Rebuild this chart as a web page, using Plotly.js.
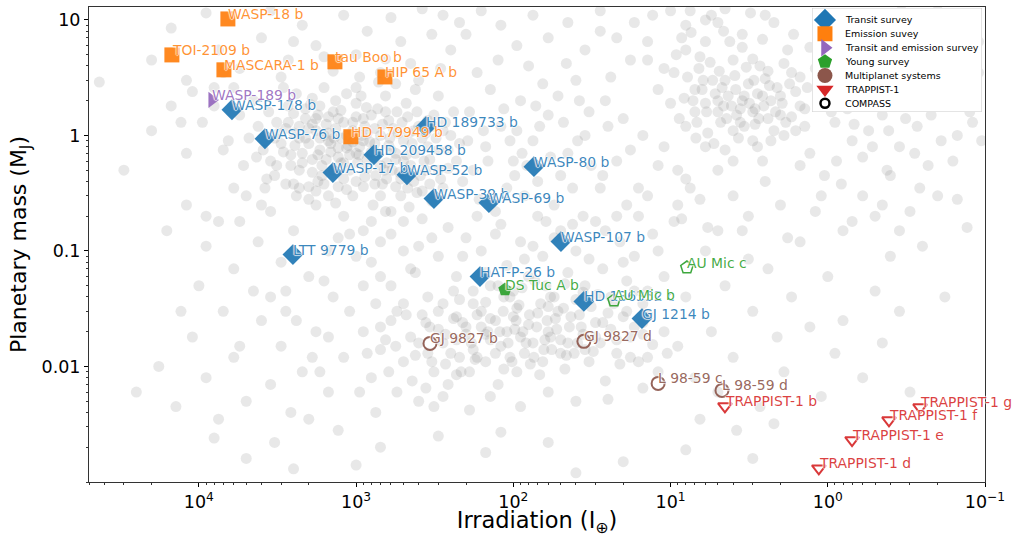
<!DOCTYPE html>
<html><head><meta charset="utf-8">
<script src="https://cdn.plot.ly/plotly-3.0.1.min.js"></script>
<style>html,body{margin:0;padding:0;background:#fff}#chart{width:1013px;height:537px}</style>
</head><body><div id="chart"></div>
<script>
// ---------- Highlighted targets (irradiation in I_earth, mass in M_J) ----------
const transitNames = ['WASP-178 b','WASP-76 b','HD 189733 b','HD 209458 b','WASP-17 b','WASP-52 b','WASP-80 b','WASP-39 b','WASP-69 b','LTT 9779 b','WASP-107 b','HAT-P-26 b','HD 136352 c','GJ 1214 b'];
const transitIrr   = [6165, 3800, 360, 771, 1405, 475, 74, 320, 143, 2523, 49.8, 163, 35.6, 15.2];
const transitMass  = [1.67, 0.936, 1.19, 0.68, 0.477, 0.457, 0.537, 0.284, 0.262, 0.0931, 0.1205, 0.060, 0.0366, 0.026];

const emissionNames = ['WASP-18 b','TOI-2109 b','MASCARA-1 b','tau Boo b','HIP 65 A b','HD 179949 b'];
const emissionIrr   = [6540, 14850, 6930, 1364, 656, 1080];
const emissionMass  = [10.2, 4.98, 3.70, 4.34, 3.21, 0.975];

const bothNames = ['WASP-189 b'];
const bothIrr   = [8260];
const bothMass  = [2.03];

const youngNames = ['DS Tuc A b'];
const youngIrr   = [113];
const youngMass  = [0.0463];

const youngCompassNames = ['AU Mic b','AU Mic c'];
const youngCompassIrr   = [22.9, 7.87];
const youngCompassMass  = [0.0373, 0.0719];

const multiNames = ['GJ 9827 b','GJ 9827 d','L 98-59 c','L 98-59 d'];
const multiIrr   = [339, 35.6, 12.0, 4.71];
const multiMass  = [0.01585, 0.0165, 0.00714, 0.00621];

const trappistNames = ['TRAPPIST-1 b','TRAPPIST-1 d','TRAPPIST-1 e','TRAPPIST-1 f','TRAPPIST-1 g'];
const trappistIrr   = [4.51, 1.14, 0.701, 0.408, 0.259];
const trappistMass  = [0.00452, 0.00131, 0.0023, 0.00342, 0.00443];

// ---------- Background known exoplanets [irradiation, mass] ----------
const bgHotJupiters = [[1800,1.1],[1500,0.9],[1200,1.3],[2100,1.4],[950,0.8],[700,1.0],[1300,0.65],[1650,0.55],[2500,1.05],[3000,0.85],
[2200,0.7],[1100,0.5],[850,0.62],[600,0.75],[750,0.45],[500,0.9],[400,1.2],[450,0.55],[350,0.8],[300,0.5],
[1400,1.6],[1900,2.1],[2700,1.8],[1000,1.9],[800,1.5],[650,2.2],[550,1.6],[420,2.5],[320,1.5],[250,1.0],
[230,0.6],[280,0.35],[380,0.33],[520,0.3],[680,0.38],[900,0.36],[1200,0.42],[1600,0.38],[2300,0.5],[3500,0.6],
[4200,1.2],[3800,0.9],[2900,2.6],[2000,0.28],[1350,0.26],[780,0.25],[600,0.22],[460,0.24],[330,0.27],[210,0.4],
[1700,0.75],[1250,0.95],[1050,1.1],[880,1.2],[720,0.7],[580,1.15],[480,0.68],[370,0.6],[260,0.75],[2600,0.68],
[3200,1.3],[2400,2.3],[1550,1.25],[1150,0.78],[980,0.58],[820,0.88],[640,0.58],[530,0.48],[430,0.4],[310,0.95],
[270,1.3],[1900,0.62],[1450,0.72],[1100,0.68],[920,1.0],[760,1.15],[610,0.95],[510,1.3],[440,0.85],[360,1.05],
[2800,1.15],[2100,0.95],[1750,1.5],[1350,2.0],[1000,2.6],[720,2.9],[560,2.8],[400,3.0],[300,2.2],[240,1.6],
[4500,2.0],[3300,0.45],[2500,0.38],[1800,0.33],[1050,0.3],[700,0.3],[1500,1.05],[1250,0.58],[850,0.52],[660,0.5],
[560,0.62],[390,0.45],[340,0.38],[1700,1.8],[2300,1.2],[3900,0.75],[1000,1.45],[480,1.9],
[5500,1.5],[6500,0.9],[8000,2.6],[9500,1.3],[12000,0.7],[15000,1.8],[20000,1.1],[30000,0.5],[5200,0.55],[7000,3.5]];

const bgHotJupiterCore = [[1900,1.25],[1600,1.0],[1350,1.15],[1150,1.0],[1450,0.85],[2000,0.85],[2300,0.95],[1750,0.68],[1550,0.62],[1300,0.78],
[1000,0.7],[900,0.9],[1050,0.88],[1200,0.58],[1400,0.5],[1650,0.45],[1900,0.48],[2200,0.58],[2600,0.55],[2900,0.72],
[3300,0.95],[2700,1.3],[2100,1.7],[1800,1.4],[1500,1.45],[1250,1.65],[1050,1.3],[850,1.05],[760,0.85],[680,1.25],
[620,0.82],[560,0.7],[500,0.6],[460,1.05],[420,0.7],[380,0.95],[340,0.62],[300,0.75],[280,1.1],[350,1.35],
[410,1.6],[470,1.45],[620,1.35],[730,1.7],[860,1.75],[930,2.2],[1150,2.3],[1600,2.6],[2000,1.15],[2450,0.82],
[3100,1.05],[3600,1.6],[1700,0.95],[1380,0.95],[1120,0.82],[960,0.68],[800,0.72],[700,0.55],[590,0.5],[520,0.42],
[470,0.35],[560,0.36],[640,0.42],[760,0.38],[880,0.44],[1000,0.4],[1150,0.34],[1300,0.36],[1500,0.3],[1750,0.4],
[2000,0.36],[2400,0.3],[2800,0.38],[3200,0.55],[3700,0.42],[4300,0.65],[4800,0.95],[2500,1.55],[1950,1.85],[1300,1.4],
[900,1.4],[650,1.6],[540,1.05],[430,1.1],[320,1.2],[260,0.52],[220,0.85],[290,0.42],[410,0.32],[360,0.5]];

const bgWarmGiants = [[180,0.5],[150,0.8],[120,1.2],[100,0.6],[90,2.0],[75,0.9],[60,1.5],[50,0.45],[40,3.0],[35,1.0],
[190,1.6],[140,2.5],[110,0.35],[85,0.3],[70,0.4],[55,0.25],[45,0.7],[38,2.0],[32,0.55],[165,0.28],
[130,0.22],[95,1.1],[80,4.0],[65,2.8],[48,1.3],[42,0.35],[36,0.2],[170,3.5],[125,4.5],[105,0.9],
[88,0.7],[72,1.8],[58,0.65],[46,4.2],[33,1.6],[155,1.1],[115,1.7],[98,0.45],[62,0.18],[52,2.2],
[195,0.9],[145,0.6],[82,0.55],[68,1.2],[39,0.9],
[12,2.5],[15,1.0],[18,4.5],[22,0.6],[26,2.0],[28,8.0],[13,11],[16,0.35],[20,1.4],[24,3.2],[14,6.5],[19,0.25],[25,1.2],[27,0.45],[11,3.8]];

const bgHighMass = [[20000,4.5],[15000,8.5],[12000,3.0],[9000,11.5],[7500,5.5],[5500,3.8],[4000,7.0],[3500,12],[2700,4.5],[2200,9.0],
[1800,6.0],[1400,3.6],[1200,11],[1000,5.0],[850,8.0],[700,3.5],[600,10.5],[520,6.5],[450,4.2],[380,12.5],
[330,7.5],[290,3.8],[250,5.5],[220,9.5],[3000,3.2],[2500,6.5],[1600,4.8],[950,3.2],[650,4.6],[43000,2.9],
[11000,2.4],[6000,2.6],[8000,1.8],[13000,1.3],[7000,0.75],
[280,11],[200,7.5],[160,12],[120,9.0],[95,6.0],[75,11],[60,7.0],[45,9.5],[35,5.5],[28,12],
[22,7.0],[17,9.5],[14,4.5],[10,12],[8,5.5],[6,10],[4.5,12.5],[3.5,7.5],[2.5,11],[1.3,5.8],[1.1,9.5],[0.9,4.8]];

const bgColdGiants = [[9,0.5],[8,1.2],[7,2.5],[6,0.8],[5,1.6],[4.5,3.0],[4,1.1],[3.5,2.0],[3,0.9],[2.7,4.0],
[2.4,1.4],[2.1,2.6],[1.9,1.0],[1.7,3.5],[1.5,1.8],[1.3,0.7],[1.1,2.2],[1.0,5.0],[0.9,1.3],[0.8,3.0],
[0.7,0.9],[0.6,2.0],[0.5,6.0],[0.45,1.5],[0.4,3.5],[0.35,0.8],[0.3,2.5],[0.27,1.2],[0.24,8.0],[0.21,4.0],
[0.18,1.8],[0.16,0.6],[0.14,3.0],[0.12,1.3],[0.11,6.5],[9.5,3.5],[8.5,7.0],[7.5,0.35],[6.5,4.8],[5.5,11],
[5,0.5],[4.2,6.5],[3.8,1.5],[3.2,2.8],[2.9,1.7],[2.6,0.6],[2.3,2.0],[2.0,1.5],[1.8,5.5],[1.6,2.4],
[1.4,1.2],[1.2,3.8],[1.05,0.45],[0.95,2.6],[0.85,8.5],[0.75,1.7],[0.65,4.5],[0.55,1.1],[0.48,2.8],[0.42,0.5],
[0.38,10],[0.33,1.9],[0.29,5.0],[0.26,0.35],[0.23,2.2],[0.2,12],[0.17,3.6],[0.15,1.0],[0.13,2.0],[0.105,0.9],
[6,1.9],[5.2,2.3],[4.8,1.3],[4.3,2.2],[3.9,3.3],[3.4,1.2],[3.0,1.6],[2.8,2.3],[2.5,3.1],[2.2,1.1],
[1.95,1.9],[7,1.6],[6.2,3.0],[5.8,1.05],[4.6,1.8],[3.6,1.7],[3.3,3.9],[2.9,1.25],[2.6,2.2],[1.7,1.45],
[1.35,2.6],[8,9.0],[9,0.25],[7.5,12],[4,0.3],[2,0.25],[1.2,0.22],[0.6,0.3],[0.3,0.22],[0.15,0.28],[10,1.9],[11,0.8]];

const bgColdGiantCluster = [[7.2,2.0],[6.8,1.3],[6.3,2.5],[5.9,1.6],[5.4,3.0],[5.0,2.0],[4.7,2.6],[4.4,1.4],[4.1,1.8],[3.85,2.5],
[3.6,1.3],[3.4,2.2],[3.15,1.9],[2.95,3.0],[2.75,1.4],[2.55,1.8],[2.35,2.7],[2.15,1.6],[2.0,2.2],[1.85,1.3],
[1.75,2.8],[1.6,1.1],[1.5,3.2],[1.4,1.7],[6.6,3.8],[5.6,4.3],[4.9,3.6],[4.0,4.5],[3.0,4.6],[2.4,3.6],
[1.9,4.2],[8.2,2.1],[8.8,1.4],[7.8,3.2],[6.9,0.95],[5.3,0.85],[4.5,0.75],[3.7,0.95],[2.8,0.8],[2.3,0.9],
[6.0,6.5],[4.6,8.0],[3.5,5.8],[2.6,6.8],[1.65,7.5],[9.2,5.0],[7.4,7.8],[5.0,9.5],[3.1,11.5],[2.2,9.5],
[0.95,1.6],[0.88,0.6],[0.78,2.2],[0.68,1.25],[0.58,3.2],[0.52,0.8],[0.46,2.1],[0.41,1.1],[0.36,4.8],[0.32,1.4],
[0.28,0.7],[0.25,3.0],[0.22,1.5],[0.19,0.9],[0.17,2.4],[0.14,5.5],[0.125,1.6],[0.11,3.5],[0.72,5.5],[0.62,9.0],
[0.44,7.0],[0.34,12],[0.27,6.0],[0.2,9.0],[0.16,7.5],[0.13,10],[0.82,0.38],[0.5,0.2],[0.4,0.45],[0.23,0.55],
[28,0.35],[22,0.2],[18,0.75],[14,0.3],[12,0.55],[9.5,0.18],[8,0.42],[6.5,0.28],[5,0.15],[4,0.6],
[3.2,0.2],[2.5,0.4],[1.8,0.13],[1.5,0.55],[1.1,0.3],[0.8,0.15],[0.6,0.65],[0.45,0.25],[0.35,0.15],[0.2,0.3],[0.13,0.16]];

const bgNeptunes = [[900,0.15],[800,0.08],[700,0.12],[600,0.05],[500,0.18],[450,0.07],[400,0.11],[350,0.04],[300,0.09],[260,0.16],
[230,0.06],[200,0.13],[180,0.035],[160,0.1],[140,0.05],[120,0.17],[110,0.075],[100,0.045],[90,0.12],[80,0.06],
[70,0.2],[65,0.09],[58,0.04],[50,0.15],[45,0.065],[40,0.1],[35,0.05],[30,0.18],[27,0.07],[24,0.04],
[21,0.12],[19,0.055],[17,0.09],[15,0.035],[13,0.14],[11,0.06],[750,0.035],[550,0.03],[380,0.19],[280,0.035],
[210,0.09],[170,0.2],[130,0.14],[95,0.032],[75,0.11],[55,0.13],[42,0.17],[33,0.085],[26,0.15],[20,0.08],
[16,0.2],[14,0.045],[12,0.1],[650,0.22],[330,0.13],[240,0.045],[150,0.065],[115,0.04],[85,0.085],[62,0.05],
[1200,0.2],[1500,0.1],[1800,0.25],[2000,0.06],[2500,0.15],[3000,0.08],[3500,0.22],[4200,0.12],[5000,0.3],[6000,0.07],
[7500,0.18],[9000,0.11],[12000,0.25],[1100,0.14],[1600,0.055],[2300,0.35],[2800,0.045],[3800,0.35],[5500,0.18],[16000,0.15],
[4000,0.25],[6000,0.35],[9000,0.2],[10000,0.05],[13000,0.03],[7000,0.03],[5500,0.015],[3500,0.04],[2400,0.025],[1900,0.012],
[1500,0.018],[800,0.18],[600,0.14],[500,0.1],[1000,0.09],[1300,0.13],[700,0.06],[420,0.065],[900,0.05]];

const bgSmall = [[900,0.02],[800,0.008],[700,0.014],[600,0.025],[550,0.006],[500,0.011],[450,0.018],[400,0.005],[380,0.028],[350,0.013],
[320,0.009],[300,0.021],[280,0.016],[260,0.007],[240,0.026],[220,0.012],[200,0.019],[190,0.009],[180,0.014],[170,0.028],
[160,0.022],[150,0.011],[140,0.017],[130,0.025],[125,0.007],[120,0.015],[110,0.02],[105,0.012],[100,0.027],[95,0.009],
[90,0.018],[85,0.013],[80,0.023],[75,0.016],[70,0.029],[68,0.0085],[65,0.011],[60,0.02],[57,0.014],[54,0.026],
[50,0.017],[47,0.0095],[44,0.022],[41,0.013],[38,0.028],[36,0.019],[33,0.011],[30,0.024],[28,0.016],[26,0.0075],
[24,0.021],[22,0.013],[20,0.027],[18,0.018],[16,0.011],[15,0.024],[13,0.0155],[12,0.009],[11,0.02],[10.5,0.013],
[650,0.017],[480,0.028],[420,0.0125],[340,0.022],[270,0.0105],[230,0.017],[210,0.024],[175,0.0115],[145,0.02],[115,0.0095],
[98,0.021],[78,0.0105],[63,0.017],[52,0.03],[46,0.0125],[39,0.016],[31,0.0135],[25,0.029],[21,0.0105],[17,0.022],
[14,0.028],[190,0.0042],[140,0.0055],[90,0.0045],[60,0.006],[40,0.005],[25,0.0052],[15,0.0065],[750,0.004],[320,0.0045],
[1200,0.012],[1500,0.006],[1800,0.02],[2200,0.009],[2600,0.004],[3000,0.015],[3500,0.007],[4000,0.025],[5000,0.005],[6000,0.012],
[7500,0.0035],[9000,0.008],[11000,0.018],[14000,0.0045],[18000,0.01],[1100,0.03],[1400,0.04],[2000,0.0035],[2800,0.03],[4500,0.045],
[1300,0.0028],[8000,0.0024],[3300,0.0022],[25000,0.006],[1700,0.009]];

const bgSubNeptuneCore = [[400,0.016],[360,0.024],[330,0.011],[300,0.03],[270,0.019],[250,0.013],[230,0.027],[215,0.009],[200,0.022],[185,0.016],
[170,0.012],[160,0.03],[150,0.019],[140,0.026],[130,0.013],[122,0.02],[116,0.03],[108,0.016],[102,0.011],[96,0.025],
[92,0.034],[87,0.02],[83,0.016],[79,0.028],[74,0.012],[71,0.022],[67,0.035],[64,0.014],[61,0.025],[58,0.018],
[55,0.04],[53,0.021],[50,0.013],[48,0.032],[45,0.016],[43,0.027],[40,0.038],[37,0.022],[35,0.014],[32,0.033],
[30,0.018],[29,0.042],[27,0.024],[23,0.035],[22,0.017],[19,0.03],[18,0.012],[17,0.045],[15,0.019],[14,0.012],
[220,0.038],[180,0.045],[150,0.036],[125,0.05],[105,0.04],[88,0.048],[73,0.055],[60,0.033],[47,0.052],[36,0.044],
[500,0.035],[560,0.015],[620,0.009],[700,0.022],[850,0.013],[950,0.006],[440,0.0075],[360,0.0065],[280,0.0055],[230,0.0085]];

const bgTemperate = [[9,0.015],[8,0.04],[7,0.008],[6,0.1],[5.5,0.02],[5,0.006],[4.5,0.05],[4,0.012],[3.5,0.15],[3,0.03],
[2.7,0.0045],[2.4,0.07],[2.1,0.018],[1.9,0.009],[1.7,0.04],[1.5,0.12],[1.3,0.022],[1.1,0.0055],[1.0,0.06],[0.9,0.013],
[0.8,0.025],[0.7,0.18],[0.6,0.008],[0.5,0.045],[0.45,0.016],[0.4,0.09],[0.35,0.03],[0.3,0.006],[6.5,0.0035],[3.8,0.0028],
[2.2,0.0032],[8.5,0.19],[5.8,0.16],[3.2,0.085],[0.25,0.11],[0.18,0.04],
[700,0.002],[300,0.0025],[150,0.0018],[60,0.0022],[20,0.0015],[8,0.0019],[3,0.0016],[5000,0.0016],[1000,0.0014],[40,0.0012],[120,0.0027],[2500,0.0013]];

// ---------- Legend entries ----------
const legendLabels = ['Transit survey','Emission suvey','Transit and emission survey','Young survey','Multiplanet systems','TRAPPIST-1','COMPASS'];

// ---------- Styles ----------
const FONT = 'DejaVu Sans, Verdana, sans-serif';
const C = {blue:'#1f77b4', orange:'#ff7f0e', purple:'#9467bd', green:'#2ca02c', brown:'#8c564b', red:'#d62728'};
const TXT = {blue:'rgba(31,119,180,0.88)', orange:'rgba(255,127,14,0.85)', purple:'rgba(148,103,189,0.9)', green:'rgba(44,160,44,0.88)', brown:'rgba(140,86,75,0.9)', red:'rgba(214,39,40,0.88)'};
const HALO = '1px 0px 1px rgba(255,255,255,0.85), -1px 0px 1px rgba(255,255,255,0.85), 0px 1px 1px rgba(255,255,255,0.85), 0px -1px 1px rgba(255,255,255,0.85)';

const bgAll = [].concat(bgHotJupiters, bgHotJupiterCore, bgWarmGiants, bgHighMass, bgColdGiants, bgColdGiantCluster, bgNeptunes, bgSmall, bgSubNeptuneCore, bgTemperate);

const traces = [{
  x: bgAll.map(p => p[0]), y: bgAll.map(p => p[1]),
  type: 'scatter', mode: 'markers', hoverinfo: 'skip', showlegend: false,
  marker: {size: 11, color: 'rgb(128,128,128)', opacity: 0.18, line: {width: 0}}
}];

const groups = [
  {names: transitNames, irr: transitIrr, mass: transitMass, key: 'blue', symbol: 'diamond', size: 16, lw: 0},
  {names: emissionNames, irr: emissionIrr, mass: emissionMass, key: 'orange', symbol: 'square', size: 15, lw: 0},
  {names: bothNames, irr: bothIrr, mass: bothMass, key: 'purple', symbol: 'triangle-right', size: 14, lw: 0},
  {names: youngNames, irr: youngIrr, mass: youngMass, key: 'green', symbol: 'pentagon', size: 14, lw: 0},
  {names: youngCompassNames, irr: youngCompassIrr, mass: youngCompassMass, key: 'green', symbol: 'pentagon-open', size: 13, lw: 1.5},
  {names: multiNames, irr: multiIrr, mass: multiMass, key: 'brown', symbol: 'circle-open', size: 13, lw: 2},
  {names: trappistNames, irr: trappistIrr, mass: trappistMass, key: 'red', symbol: 'triangle-down-open', size: 12, lw: 2}
];

const annotations = [];
groups.forEach(g => {
  traces.push({
    x: g.irr, y: g.mass, text: g.names, type: 'scatter', mode: 'markers', showlegend: false,
    hovertemplate: '%{text}<extra></extra>',
    marker: {symbol: g.symbol, size: g.size, color: C[g.key], opacity: 0.92, line: {width: g.lw, color: C[g.key]}}
  });
  g.names.forEach((n, i) => {
    annotations.push({
      x: Math.log10(g.irr[i]), y: Math.log10(g.mass[i]), xref: 'x', yref: 'y',
      text: n, showarrow: false, xanchor: 'left', yanchor: 'middle', xshift: -2, yshift: 5,
      font: {family: FONT, size: 13.9, color: TXT[g.key], shadow: HALO}
    });
  });
});

// custom legend (drawn in its own small overlay subplot)
const legendStyle = [
  {symbol: 'diamond', color: C.blue, size: 17, lw: 0},
  {symbol: 'square', color: C.orange, size: 15, lw: 0},
  {symbol: 'triangle-right', color: C.purple, size: 15, lw: 0},
  {symbol: 'pentagon', color: C.green, size: 15, lw: 0},
  {symbol: 'circle', color: C.brown, size: 15, lw: 0},
  {symbol: 'triangle-down', color: C.red, size: 15, lw: 0},
  {symbol: 'circle-open', color: '#000000', size: 9, lw: 2.5}
];
const rowY = i => 0.885 - i * 0.1337;
legendLabels.forEach((lab, i) => {
  const s = legendStyle[i];
  traces.push({
    x: [0.076], y: [rowY(i)], xaxis: 'x2', yaxis: 'y2', type: 'scatter', mode: 'markers',
    showlegend: false, hoverinfo: 'skip',
    marker: {symbol: s.symbol, size: s.size, color: s.color, line: {width: s.lw, color: s.color}}
  });
  annotations.push({
    x: 0.18, y: rowY(i), xref: 'x2', yref: 'y2', text: lab, showarrow: false,
    xanchor: 'left', yanchor: 'middle', font: {family: FONT, size: 9.5, color: '#000'}
  });
});

const xTickVals = [1e4, 1e3, 1e2, 1e1, 1e0, 1e-1];
const xTickText = ['10<sup>4</sup>','10<sup>3</sup>','10<sup>2</sup>','10<sup>1</sup>','10<sup>0</sup>','10<sup>\u22121</sup>'];
const yTickVals = [10, 1, 0.1, 0.01];
const yTickText = ['10', '1', '0.1', '0.01'];

const layout = {
  width: 1013, height: 537,
  margin: {l: 89, r: 28, t: 7, b: 55},
  paper_bgcolor: '#ffffff', plot_bgcolor: '#ffffff',
  font: {family: FONT, color: '#000'},
  showlegend: false,
  xaxis: {
    type: 'log', range: [Math.log10(50000), -1],
    tickmode: 'array', tickvals: xTickVals, ticktext: xTickText,
    ticks: 'outside', ticklen: 4, tickwidth: 1, tickcolor: '#000',
    minor: {ticks: 'outside', ticklen: 2, tickwidth: 0.8, tickcolor: '#000', dtick: 'D1', showgrid: false},
    showgrid: false, zeroline: false, showline: true, linecolor: '#333', linewidth: 1, mirror: true,
    tickfont: {family: FONT, size: 17.5, color: '#000'},
    title: {text: 'Irradiation (I<sub>\u2295</sub>)', font: {family: FONT, size: 22.5, color: '#000'}, standoff: 2},
    automargin: false
  },
  yaxis: {
    type: 'log', range: [-3, 1.112],
    tickmode: 'array', tickvals: yTickVals, ticktext: yTickText,
    ticks: 'outside', ticklen: 4, tickwidth: 1, tickcolor: '#000',
    minor: {ticks: 'outside', ticklen: 2, tickwidth: 0.8, tickcolor: '#000', dtick: 'D1', showgrid: false},
    showgrid: false, zeroline: false, showline: true, linecolor: '#333', linewidth: 1, mirror: true,
    tickfont: {family: FONT, size: 17.5, color: '#000'},
    title: {text: 'Planetary mass (M<sub>J</sub>)', font: {family: FONT, size: 22, color: '#000'}, standoff: 8},
    automargin: false
  },
  xaxis2: {domain: [0.807, 0.9965], range: [0, 1], anchor: 'y2', visible: false, fixedrange: true},
  yaxis2: {domain: [0.779, 0.998], range: [0, 1], anchor: 'x2', visible: false, fixedrange: true},
  shapes: [{type: 'rect', xref: 'x2', yref: 'y2', x0: 0, x1: 1, y0: 0, y1: 1, layer: 'below',
            fillcolor: 'rgba(255,255,255,0.8)', line: {color: '#cccccc', width: 1}}],
  annotations: annotations
};

Plotly.newPlot('chart', traces, layout, {displayModeBar: false, staticPlot: true});
</script></body></html>
